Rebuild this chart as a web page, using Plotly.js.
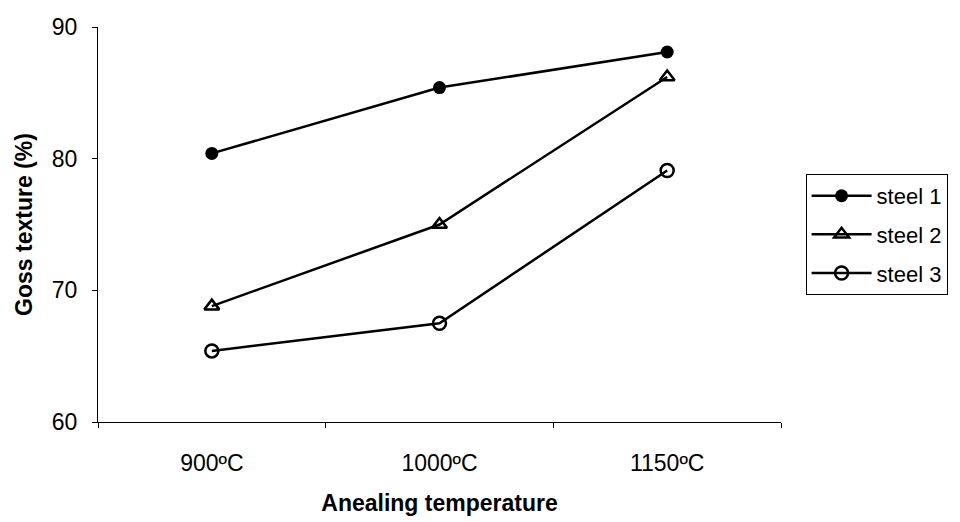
<!DOCTYPE html>
<html>
<head>
<meta charset="utf-8">
<script src="https://cdn.plot.ly/plotly-3.0.1.min.js"></script>
<style>html,body{margin:0;padding:0;background:#fff;}#chart{width:960px;height:522px;}</style>
</head>
<body>
<div id="chart"></div>
<script>
const categories = ["900ºC", "1000ºC", "1150ºC"];
const steel1 = [80.4, 85.4, 88.1];
const steel2 = [68.8, 75.0, 86.2];
const steel3 = [65.4, 67.5, 79.1];
const seriesNames = ["steel 1", "steel 2", "steel 3"];
const yTicks = [60, 70, 80, 90];

const font = "Liberation Sans, Arial, sans-serif";
const line = {color: "#000", width: 2.5};
const traces = [
  {x: categories, y: steel1, name: seriesNames[0], legendgroup: "g1", type: "scatter", mode: "lines+markers",
   line: line, marker: {symbol: "circle", size: 13, color: "#000"}},
  {x: categories, y: steel2, name: seriesNames[1], legendgroup: "g2", type: "scatter", mode: "lines+markers",
   line: line, marker: {symbol: "triangle-up-open", size: 13, color: "#000", line: {width: 2.5, color: "#000"}}},
  {x: categories, y: steel3, name: seriesNames[2], legendgroup: "g3", type: "scatter", mode: "lines+markers",
   line: line, marker: {symbol: "circle-open", size: 13, color: "#000", line: {width: 2.5, color: "#000"}}}
];

const layout = {
  width: 960, height: 522,
  margin: {l: 98, r: 179, t: 27, b: 100},
  paper_bgcolor: "#fff", plot_bgcolor: "#fff",
  font: {family: font, color: "#000", size: 22},
  showlegend: true,
  legend: {x: 1.036, xanchor: "left", y: 0.628, yanchor: "top",
           bordercolor: "#000", borderwidth: 1, bgcolor: "#fff",
           traceorder: "grouped", tracegroupgap: 7, itemwidth: 60,
           font: {family: font, size: 22, color: "#000"}},
  xaxis: {type: "category", range: [-0.5, 2.5], tickson: "boundaries",
          showline: true, linecolor: "#000", linewidth: 1,
          ticks: "outside", ticklen: 5, tickcolor: "#000",
          ticklabelstandoff: 20, showgrid: false, zeroline: false,
          tickfont: {family: font, size: 23, color: "#000"},
          title: {text: "<b>Anealing temperature</b>", standoff: 20,
                  font: {family: font, size: 23, color: "#000"}}},
  yaxis: {range: [60, 90], tickvals: yTicks, ticktext: yTicks.map(String),
          showline: true, linecolor: "#000", linewidth: 1,
          ticks: "outside", ticklen: 5, tickcolor: "#000",
          ticklabelstandoff: 10, showgrid: false, zeroline: false,
          tickfont: {family: font, size: 23, color: "#000"},
          title: {text: "<b>Goss texture (%)</b>", standoff: 12,
                  font: {family: font, size: 23, color: "#000"}}}
};

Plotly.newPlot("chart", traces, layout, {displayModeBar: false, staticPlot: true});
</script>
</body>
</html>
